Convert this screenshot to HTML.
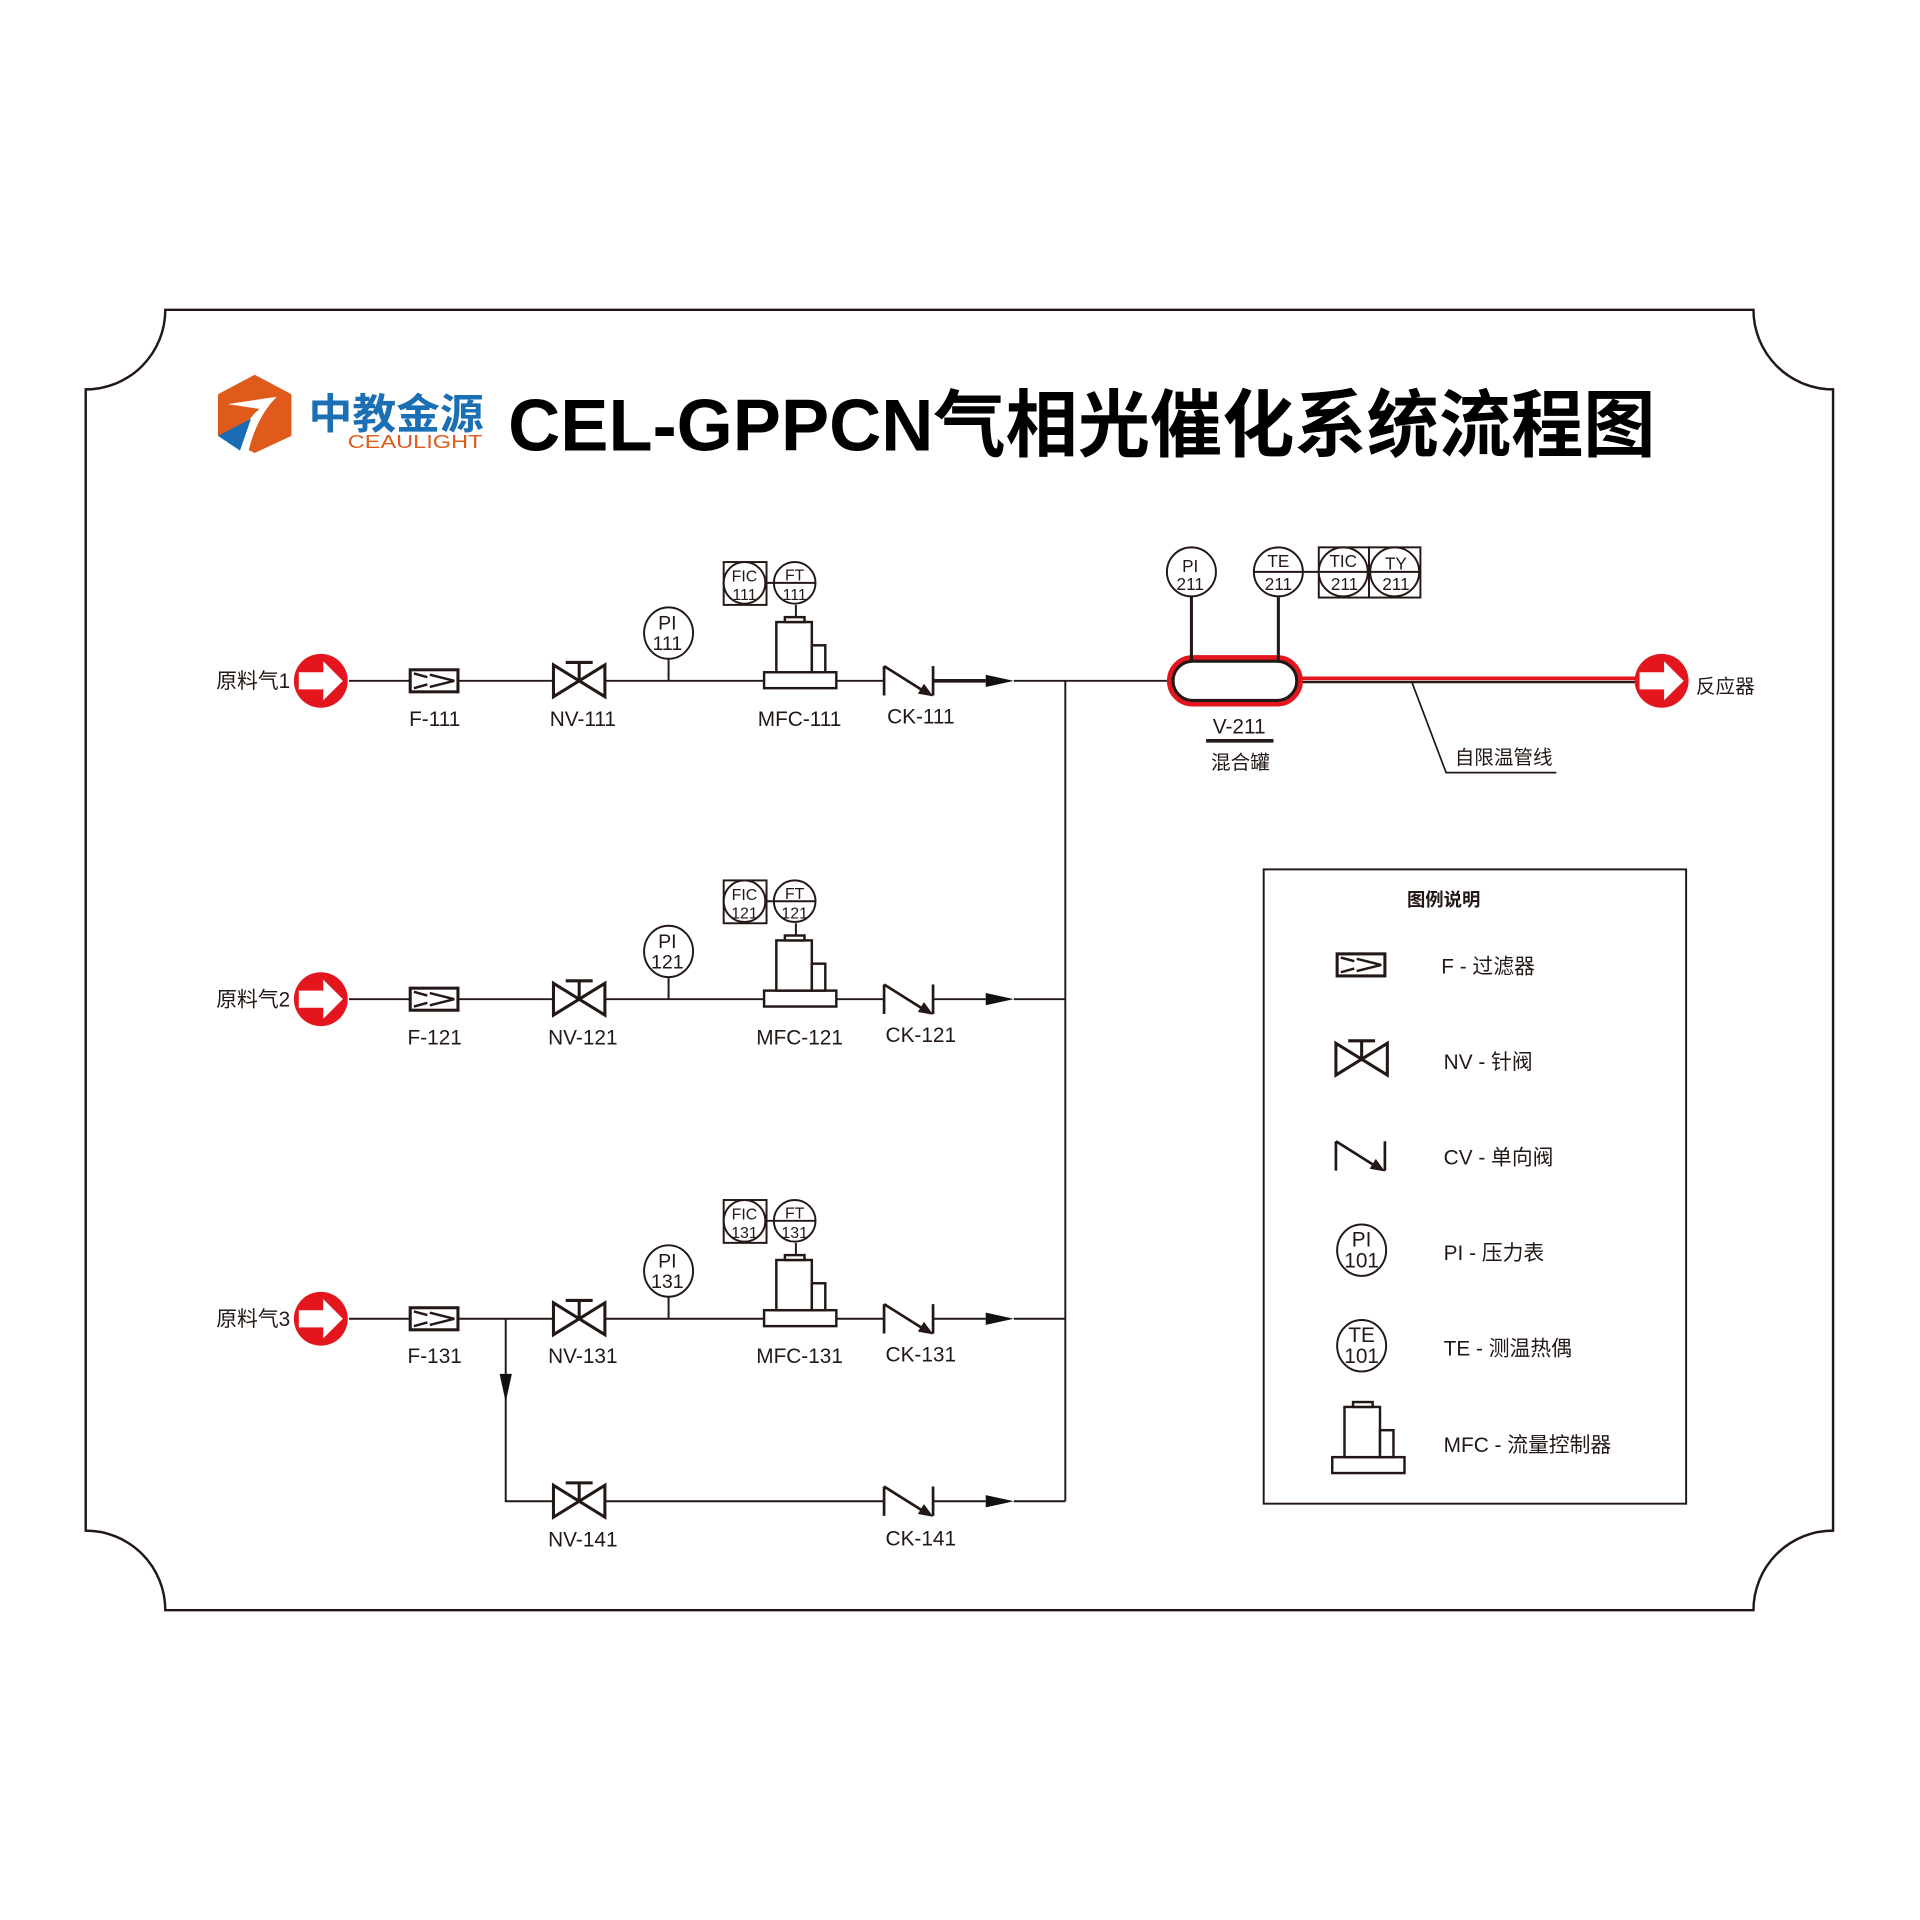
<!DOCTYPE html>
<html><head><meta charset="utf-8"><style>html,body{margin:0;padding:0;background:#fff}svg{display:block}text{font-family:"Liberation Sans","Noto Sans CJK SC",sans-serif}</style></head><body>
<svg width="1920" height="1920" viewBox="0 0 1568 1568" xmlns="http://www.w3.org/2000/svg">
<defs>
<g id="inlet"><circle r="22" fill="#e3161e"/><path d="M-18,-7 H2 V-16 L18,0 L2,16 V7 H-18 Z" fill="#fff"/></g>
<g id="filt" fill="none" stroke="#231815" stroke-width="2.5"><rect x="0" y="-9" width="39" height="18"/><path d="M3,-6 L14,-3 M3,6 L14,3 M16,-5 L36,0 L16,5" stroke-width="2"/></g>
<g id="nv" fill="none" stroke="#231815" stroke-width="2.5"><path d="M0,-13 L42,13 V-13 L0,13 Z"/><path d="M21,0 V-15 M10,-15 H32"/></g>
<g id="ck" fill="none" stroke="#231815" stroke-width="2.2"><path d="M0,-12 V12 M40,-12 V12 M0,-12 L31,7.5"/><path d="M39,12 L28.4,10.1 L32.6,3.3 Z" fill="#231815" stroke-width="1"/></g>
<path id="arr" d="M0,-5 L23,0 L0,5 Z" fill="#111"/>
<g id="mfc" fill="#fff" stroke="#231815" stroke-width="2"><rect x="0" y="-7" width="59" height="13"/><rect x="10" y="-48" width="29" height="41"/><rect x="39" y="-29" width="11" height="22"/><rect x="17" y="-52" width="16" height="4"/></g>
</defs>
<path d="M135,253 H1432 A65,65 0 0 0 1497,318 V1250 A65,65 0 0 0 1432,1315 H135 A65,65 0 0 0 70,1250 V318 A65,65 0 0 0 135,253 Z" fill="none" stroke="#231815" stroke-width="2"/>
<!-- logo -->
<path d="M208,306 L238,322 L238,356 L208,370 L178,356 L178,322 Z" fill="#e05a1c"/>
<path d="M186,330 L226,324 Q210,340 203,368 L193,368 Q198,345 212,334 Z" fill="#fff"/>
<path d="M178,356 L205,342 L196,368 Z" fill="#1a6db5"/>
<text x="252" y="350" font-size="34" font-weight="bold" fill="#1a6fb5" textLength="143" lengthAdjust="spacingAndGlyphs">中教金源</text>
<text x="284" y="366" font-size="15" fill="#e05a1c" textLength="110" lengthAdjust="spacingAndGlyphs">CEAULIGHT</text>
<text x="415" y="368" font-size="60" font-weight="bold" fill="#000" textLength="937" lengthAdjust="spacingAndGlyphs">CEL-GPPCN气相光催化系统流程图</text>

<g stroke="#231815" stroke-width="1.6" fill="none">
<path d="M285,556 H335 M374,556 H452 M494,556 H624 M683,556 H722 M828,556 H955"/>
<path d="M762,556 H805" stroke-width="3"/>
<path d="M285,816 H335 M374,816 H452 M494,816 H624 M683,816 H722 M762,816 H805 M828,816 H870"/>
<path d="M285,1077 H335 M374,1077 H452 M494,1077 H624 M683,1077 H722 M762,1077 H805 M828,1077 H870"/>
<path d="M413,1077 V1226 H452 M494,1226 H722 M762,1226 H805 M828,1226 H870 M870,556 V1226"/>
</g>
<path d="M408,1122 L413,1145 L418,1122 Z" fill="#111"/>

<g font-size="17" fill="#231815" text-anchor="middle">
<use href="#inlet" x="262" y="556"/><use href="#filt" x="335" y="556"/><use href="#nv" x="452" y="556"/><use href="#mfc" x="624" y="556"/><use href="#ck" x="722" y="556"/><use href="#arr" x="805" y="556"/>
<use href="#inlet" x="262" y="816"/><use href="#filt" x="335" y="816"/><use href="#nv" x="452" y="816"/><use href="#mfc" x="624" y="816"/><use href="#ck" x="722" y="816"/><use href="#arr" x="805" y="816"/>
<use href="#inlet" x="262" y="1077"/><use href="#filt" x="335" y="1077"/><use href="#nv" x="452" y="1077"/><use href="#mfc" x="624" y="1077"/><use href="#ck" x="722" y="1077"/><use href="#arr" x="805" y="1077"/>
<use href="#nv" x="452" y="1226"/><use href="#ck" x="722" y="1226"/><use href="#arr" x="805" y="1226"/>
<text x="237" y="562" text-anchor="end">原料气1</text><text x="237" y="822" text-anchor="end">原料气2</text><text x="237" y="1083" text-anchor="end">原料气3</text>
<text x="355" y="593">F-111</text><text x="476" y="593">NV-111</text><text x="653" y="593">MFC-111</text><text x="752" y="591">CK-111</text>
<text x="355" y="853">F-121</text><text x="476" y="853">NV-121</text><text x="653" y="853">MFC-121</text><text x="752" y="851">CK-121</text>
<text x="355" y="1113">F-131</text><text x="476" y="1113">NV-131</text><text x="653" y="1113">MFC-131</text><text x="752" y="1112">CK-131</text>
<text x="476" y="1263">NV-141</text><text x="752" y="1262">CK-141</text>
</g>

<g fill="#fff" stroke="#231815" stroke-width="1.6">
<path d="M546,538 V556 M546,798 V816 M546,1058 V1077" fill="none"/>
<ellipse cx="546" cy="517" rx="20" ry="21"/><ellipse cx="546" cy="777" rx="20" ry="21"/><ellipse cx="546" cy="1038" rx="20" ry="21"/>
<path d="M650,494 V504 M626,476 H632 M650,754 V764 M626,736 H632 M650,1015 V1025 M626,997 H632" fill="none"/>
<rect x="591" y="459" width="35" height="35"/><circle cx="608" cy="476" r="17"/><circle cx="649" cy="476" r="17"/><path d="M632,476 H666"/>
<rect x="591" y="719" width="35" height="35"/><circle cx="608" cy="736" r="17"/><circle cx="649" cy="736" r="17"/><path d="M632,736 H666"/>
<rect x="591" y="980" width="35" height="35"/><circle cx="608" cy="997" r="17"/><circle cx="649" cy="997" r="17"/><path d="M632,997 H666"/>
</g>
<g font-size="16" fill="#231815" text-anchor="middle">
<text x="545" y="514">PI</text><text x="545" y="531">111</text>
<text x="545" y="774">PI</text><text x="545" y="791">121</text>
<text x="545" y="1035">PI</text><text x="545" y="1052">131</text>
</g>
<g font-size="13" fill="#231815" text-anchor="middle">
<text x="608" y="475">FIC</text><text x="608" y="490">111</text><text x="649" y="474">FT</text><text x="649" y="490">111</text>
<text x="608" y="735">FIC</text><text x="608" y="750">121</text><text x="649" y="734">FT</text><text x="649" y="750">121</text>
<text x="608" y="996">FIC</text><text x="608" y="1011">131</text><text x="649" y="995">FT</text><text x="649" y="1011">131</text>
</g>

<path d="M1062,557 H1340" stroke="#231815" stroke-width="2"/>
<path d="M1062,554 H1340" stroke="#e3161e" stroke-width="3"/>
<rect x="955" y="537" width="107" height="38" rx="19" fill="#fff" stroke="#e3161e" stroke-width="4"/>
<rect x="958" y="540" width="101" height="32" rx="16" fill="none" stroke="#231815" stroke-width="2.5"/>
<use href="#inlet" x="1357" y="556"/>
<g fill="#fff" stroke="#231815" stroke-width="1.6">
<path d="M973,487 V539 M1044,487 V539" stroke-width="2.5" fill="none"/>
<path d="M1064,467 H1077" fill="none"/>
<circle cx="973" cy="467" r="20"/><circle cx="1044" cy="467" r="20"/><path d="M1024,467 H1064"/>
<rect x="1077" y="447" width="41" height="41"/><circle cx="1097" cy="467" r="20"/><path d="M1077,467 H1118"/>
<rect x="1118" y="447" width="42" height="41"/><circle cx="1139" cy="467" r="20"/><path d="M1119,467 H1160"/>
<path d="M1153,557 L1181,631 H1271" fill="none" stroke-width="1.4"/>
</g>
<path d="M985,605 H1040" stroke="#231815" stroke-width="3"/>
<g font-size="14" fill="#231815" text-anchor="middle">
<text x="972" y="467">PI</text><text x="972" y="482">211</text>
<text x="1044" y="463">TE</text><text x="1044" y="482">211</text>
<text x="1097" y="463">TIC</text><text x="1098" y="482">211</text>
<text x="1140" y="465">TY</text><text x="1140" y="482">211</text>
</g>
<g font-size="17" fill="#231815">
<text x="1012" y="599" text-anchor="middle">V-211</text>
<text x="1013" y="628" text-anchor="middle" font-size="16">混合罐</text>
<text x="1188" y="624" font-size="16">自限温管线</text>
<text x="1385" y="566" font-size="16">反应器</text>
</g>

<rect x="1032" y="710" width="345" height="518" fill="none" stroke="#231815" stroke-width="1.6"/>
<text x="1179" y="740" font-size="15" font-weight="bold" text-anchor="middle" fill="#231815">图例说明</text>
<use href="#filt" x="1092" y="788"/>
<use href="#nv" x="1091" y="865"/>
<use href="#ck" x="1091" y="944"/>
<g fill="#fff" stroke="#231815" stroke-width="1.6"><ellipse cx="1112" cy="1021" rx="20" ry="21"/><ellipse cx="1112" cy="1099" rx="20" ry="21"/></g>
<use href="#mfc" x="1088" y="1197"/>
<g font-size="17" fill="#231815">
<text x="1112" y="1018" text-anchor="middle">PI</text><text x="1112" y="1035" text-anchor="middle">101</text>
<text x="1112" y="1096" text-anchor="middle">TE</text><text x="1112" y="1113" text-anchor="middle">101</text>
<text x="1177" y="795">F - 过滤器</text>
<text x="1179" y="873">NV - 针阀</text>
<text x="1179" y="951">CV - 单向阀</text>
<text x="1179" y="1029">PI - 压力表</text>
<text x="1179" y="1107">TE - 测温热偶</text>
<text x="1179" y="1186">MFC - 流量控制器</text>
</g>
</svg>
</body></html>
